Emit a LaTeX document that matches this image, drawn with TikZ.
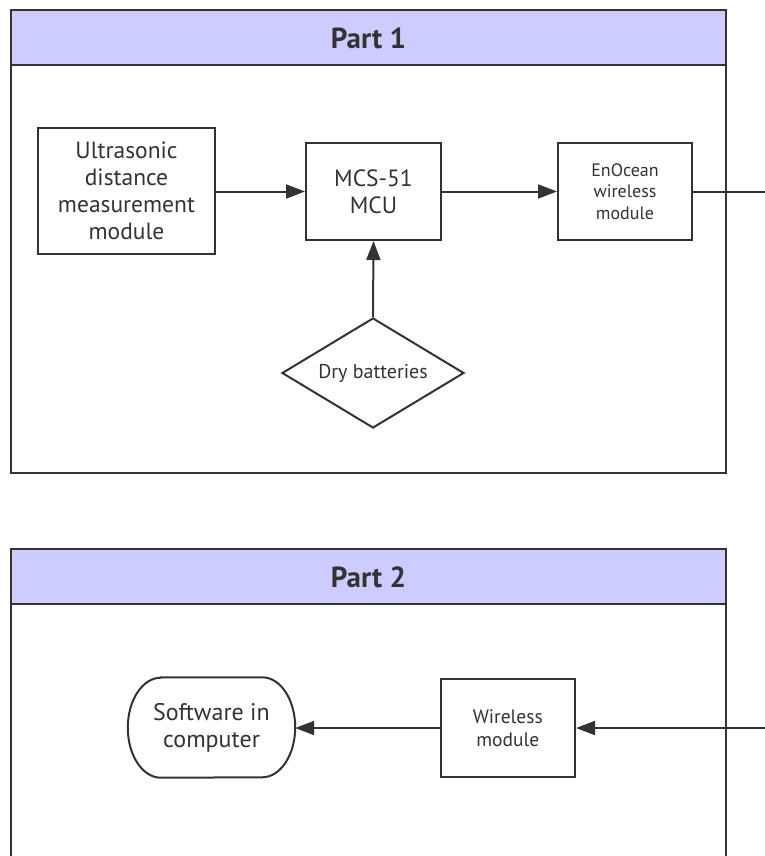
\documentclass[tikz,border=0pt]{standalone}
\usepackage{fontspec}
\setmainfont{PT Sans}
\usetikzlibrary{arrows.meta,shapes.geometric}
\definecolor{ln}{HTML}{333333}
\definecolor{hdr}{HTML}{CCCCFF}
\tikzset{
  frame/.style={draw=ln,line width=2pt},
  header/.style={draw=ln,line width=2pt,fill=hdr},
  title/.style={font=\fontsize{29}{32}\selectfont\bfseries,text=ln},
  box/.style={draw=ln,line width=2pt,align=center,text=ln,inner sep=0pt},
  big/.style={font=\fontsize{23.5}{27}\selectfont},
  small/.style={font=\fontsize{18}{21.5}\selectfont},
  conn/.style={draw=ln,line width=2pt},
  arr/.style={conn,-{Triangle[length=19pt,width=14pt]}},
}
\begin{document}
\begin{tikzpicture}[x=1pt,y=-1pt]
\useasboundingbox (0,0) rectangle (764,856);
% Part 1 frame
\draw[frame] (11,10) rectangle (726,473);
\draw[header] (11,10) rectangle (726,65);
\node[title] (t1) at (368.5,38) {Part 1};
% Part 2 frame
\draw[frame] (11,549) rectangle (726,880);
\draw[header] (11,549) rectangle (726,604);
\node[title] (t2) at (368.5,577) {Part 2};
% Part 1 nodes
\node[box,big,minimum width=177pt,minimum height=126pt] (us) at (126.5,191) {Ultrasonic\\distance\\measurement\\module};
\node[box,big,minimum width=135pt,minimum height=97pt] (mcu) at (373.5,191.5) {MCS-51\\MCU};
\node[box,small,minimum width=134pt,minimum height=97pt] (eno) at (625,191.5) {EnOcean\\wireless\\module};
\node[draw=ln,line width=2pt,diamond,aspect=1.655,minimum width=182pt,minimum height=110pt,inner sep=0pt,text=ln,font=\fontsize{20}{24}\selectfont] (bat) at (373,373) {Dry batteries};
% Part 2 nodes
\node[box,font=\fontsize{19.5}{23}\selectfont,minimum width=134.5pt,minimum height=98pt] (wm) at (507.75,728) {Wireless\\module};
\node[align=center,font=\fontsize{24}{27}\selectfont,text=ln,minimum width=167pt,minimum height=100pt,inner sep=0pt] (sw) at (211.5,727.5) {Software in\\computer};
\draw[ln,line width=2pt] ([xshift=33pt]sw.north west) -- ([xshift=-33pt]sw.north east)
  arc[start angle=90,end angle=-90,x radius=33pt,y radius=50pt]
  -- ([xshift=33pt]sw.south west)
  arc[start angle=-90,end angle=-270,x radius=33pt,y radius=50pt] -- cycle;
% connectors
\coordinate (out1) at (766,191.5);
\coordinate (in2) at (766,728);
\draw[arr] (us.east |- mcu.west) -- (mcu.west);
\draw[arr] (mcu.east) -- (eno.west);
\draw[conn] (eno.east) -- (out1);
\draw[arr] (bat.north) -- (mcu.south);
\draw[arr] (in2) -- (wm.east);
\draw[arr] (wm.west) -- (wm.west -| sw.east);
\end{tikzpicture}
\end{document}
